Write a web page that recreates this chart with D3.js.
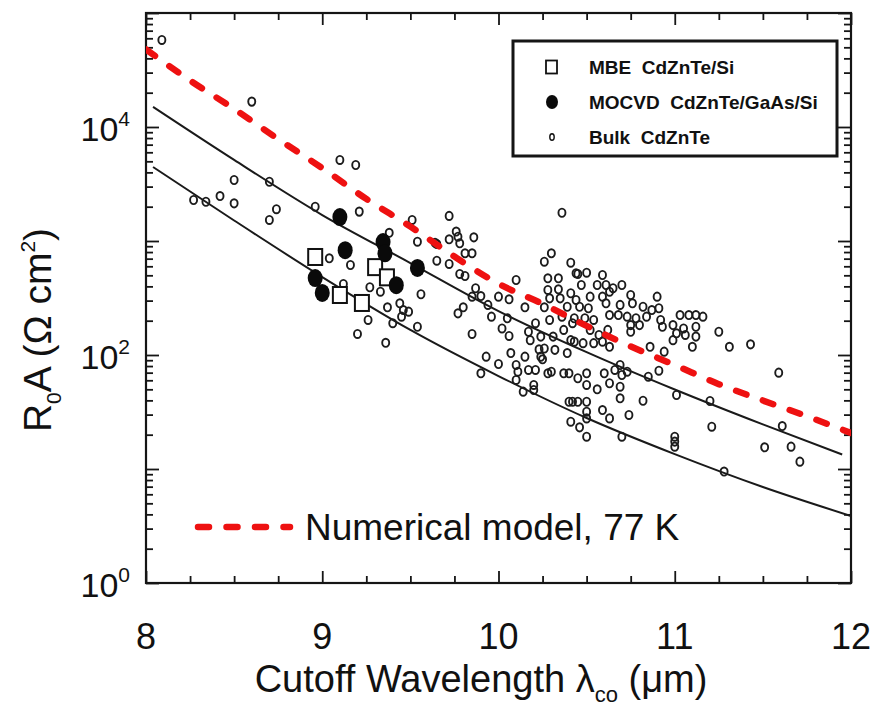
<!DOCTYPE html>
<html>
<head>
<meta charset="utf-8">
<script src="https://cdn.jsdelivr.net/npm/d3@7"></script>
<style>
  html, body { margin: 0; padding: 0; background: #fff; }
  svg { display: block; }
  text { font-family: "Liberation Sans", Arial, Helvetica, sans-serif; fill: #111; }
</style>
</head>
<body>
<svg id="chart" width="873" height="706"></svg>
<script>
// ---------------- data ----------------
const xTickValues = [8, 9, 10, 11, 12];
const yTickExponents = [0, 2, 4];

const mbeX = [8.96, 9.10, 9.225, 9.30, 9.367];
const mbeY = [724, 336, 286, 590, 480];

const mocvdX = [9.10, 9.13, 9.345, 9.356, 8.96, 9.00, 9.42, 9.54];
const mocvdY = [1620, 830, 980, 780, 473, 350, 410, 580];

const bulkX = [8.09, 8.60, 9.10, 9.19, 8.50, 8.70, 8.96, 9.21, 8.42, 8.27, 8.34, 8.50, 8.74, 8.70, 9.51, 9.54, 9.38, 9.65, 9.65, 9.04,
  9.16, 9.12, 9.27, 9.33, 9.56, 9.37, 9.44, 9.46, 9.49, 9.45, 9.26, 9.40, 9.54, 9.20, 9.36, 9.72, 10.36, 9.76, 9.77, 9.72,
  9.78, 9.86, 9.64, 9.81, 9.85, 9.72, 10.30, 10.26, 10.41, 9.78, 9.81, 10.10, 10.28, 10.34, 10.44, 9.87, 9.90, 9.85, 10.00, 10.06,
  10.28, 10.34, 10.29, 10.35, 10.41, 10.44, 9.80, 9.77, 9.94, 10.15, 10.26, 10.39, 9.96, 10.05, 10.29, 10.36, 9.85, 10.02, 10.06, 10.17,
  10.21, 10.18, 10.24, 10.26, 10.31, 10.32, 10.37, 10.41, 10.42, 9.93, 10.07, 10.15, 10.24, 10.39, 10.45, 10.50, 10.59, 10.47, 10.56, 10.61,
  10.65, 10.70, 10.52, 10.59, 10.63, 10.75, 10.90, 10.46, 10.51, 10.61, 10.69, 10.76, 10.82, 10.87, 10.91, 10.63, 10.68, 10.73, 10.78, 10.84,
  10.92, 11.03, 11.08, 11.12, 11.16, 10.54, 10.49, 10.43, 10.75, 10.80, 10.93, 10.99, 11.05, 11.12, 10.75, 11.01, 11.06, 11.12, 10.99, 11.10,
  10.52, 10.57, 10.62, 10.43, 10.48, 10.54, 10.59, 10.63, 10.86, 10.94, 11.25, 11.31, 11.43, 11.59, 10.85, 10.91, 11.01, 11.20, 11.21, 11.61,
  10.69, 10.82, 10.74, 10.59, 10.63, 11.51, 11.66, 11.71, 11.28, 10.00, 9.90, 10.23, 10.25, 10.10, 10.11, 10.17, 10.21, 10.28, 10.30, 10.37,
  10.40, 10.10, 10.14, 10.20, 10.20, 10.45, 10.50, 10.50, 10.56, 10.60, 10.63, 10.66, 10.69, 10.70, 10.73, 10.69, 10.40, 10.42, 10.45, 10.50,
  10.50, 10.50, 10.41, 10.46, 10.50, 10.70, 11.00, 11.00, 11.00];
const bulkY = [58000, 16700, 5140, 4640, 3430, 3310, 2000, 1810, 2480, 2290, 2210, 2140, 1900, 1530, 1530, 986, 1180, 942, 672, 705,
  616, 420, 393, 359, 341, 262, 284, 248, 240, 217, 203, 190, 177, 153, 128, 1660, 1770, 1210, 1090, 1035,
  955, 1077, 966, 780, 780, 629, 780, 658, 645, 514, 493, 455, 471, 471, 521, 385, 329, 325, 325, 308,
  372, 377, 314, 314, 348, 304, 262, 232, 275, 262, 262, 265, 217, 210, 203, 217, 153, 171, 147, 160,
  190, 135, 145, 114, 145, 111, 166, 135, 190, 96.7, 104, 96.7, 96.7, 104, 514, 527, 503, 411, 411, 411,
  385, 411, 325, 325, 359, 336, 325, 265, 257, 284, 275, 284, 265, 248, 257, 224, 224, 217, 210, 217,
  203, 224, 224, 224, 217, 203, 210, 210, 183, 183, 177, 183, 171, 177, 160, 155, 150, 145, 135, 118,
  166, 150, 166, 131, 127, 127, 131, 118, 118, 107, 160, 118, 124, 70, 64.5, 72.8, 44.6, 39.5, 23.5, 23.8,
  41.7, 39.7, 29.8, 32.9, 27.8, 15.5, 15.7, 11.6, 9.5, 83.4, 69.1, 112, 91.7, 81.7, 71.4, 73.9, 73.9, 69.1, 71.4, 69.1,
  69.1, 60.4, 47.7, 54.6, 49.3, 62.5, 69.1, 54.6, 50.0, 69.1, 56.5, 73.9, 81.7, 66.8, 71.4, 52.7, 38.9, 38.9, 38.9, 38.9,
  31.8, 27.8, 26.0, 23.2, 19.2, 19.2, 19.2, 17.4, 15.7];

const upperX = [8.04, 8.5, 9, 9.5, 10, 10.5, 11, 11.5, 11.95];
const upperY = [15000, 5140, 1690, 641, 243, 106, 49.8, 24.6, 13.4];

const lowerX = [8.04, 8.5, 9, 9.5, 10, 10.5, 11, 11.5, 12];
const lowerY = [4460, 1514, 483, 166, 65.4, 28.0, 13.5, 6.95, 3.87];

const modelX = [8, 8.25, 8.5, 8.75, 9, 9.25, 9.5, 9.75, 10, 10.25, 10.5, 10.75, 11, 11.25, 11.5, 11.75, 12];
const modelY = [47900, 25600, 14400, 7830, 4360, 2340, 1340, 730, 422, 281, 180, 119, 81.7, 55.5, 39.9, 29.0, 20.7];

const legendLabels = ["MBE  CdZnTe/Si", "MOCVD  CdZnTe/GaAs/Si", "Bulk  CdZnTe"];
const modelLabel = "Numerical model, 77 K";

// ---------------- layout ----------------
const svg = d3.select("#chart");
const L = 146, R = 851, T = 13, B = 583;
const x = d3.scaleLinear().domain([8, 12]).range([L, R]);
const y = d3.scaleLog().domain([1, 1e5]).range([B, T]);

const ink = "#151515";

svg.append("defs").append("clipPath").attr("id", "plotclip")
  .append("rect").attr("x", L).attr("y", T).attr("width", R - L).attr("height", B - T);

// ---------------- ticks via d3 axes (inward, mirrored) ----------------
const minorX = d3.range(8, 12.001, 0.25).filter(v => Math.abs(v - Math.round(v)) > 1e-6);
const majorY = [1, 10, 100, 1000, 1e4, 1e5];
const minorY = [];
for (let e = 0; e < 5; e++) for (let m = 2; m <= 9; m++) minorY.push(m * Math.pow(10, e));

function tickAxis(axisGen, tx, ty) {
  const g = svg.append("g").attr("transform", `translate(${tx},${ty})`).call(axisGen);
  g.select(".domain").remove();
  g.selectAll("text").remove();
  g.selectAll("line").attr("stroke", ink).attr("stroke-width", 1.8);
  return g;
}
tickAxis(d3.axisBottom(x).tickValues(xTickValues).tickSize(-12), 0, B);
tickAxis(d3.axisBottom(x).tickValues(minorX).tickSize(-7), 0, B);
tickAxis(d3.axisTop(x).tickValues(xTickValues).tickSize(-12), 0, T);
tickAxis(d3.axisTop(x).tickValues(minorX).tickSize(-7), 0, T);
tickAxis(d3.axisLeft(y).tickValues(majorY).tickSize(-13), L, 0);
tickAxis(d3.axisLeft(y).tickValues(minorY).tickSize(-7), L, 0);
tickAxis(d3.axisRight(y).tickValues(majorY).tickSize(-13), R, 0);
tickAxis(d3.axisRight(y).tickValues(minorY).tickSize(-7), R, 0);

svg.append("rect").attr("x", L).attr("y", T).attr("width", R - L).attr("height", B - T)
  .attr("fill", "none").attr("stroke", ink).attr("stroke-width", 2.2);

// ---------------- tick labels ----------------
svg.append("g").selectAll("text").data(xTickValues).join("text")
  .attr("x", d => x(d)).attr("y", B + 66)
  .attr("text-anchor", "middle").attr("font-size", 36)
  .text(d => d);

const yl = svg.append("g").selectAll("text").data(yTickExponents).join("text")
  .attr("x", 130).attr("y", d => y(Math.pow(10, d)) + 14)
  .attr("text-anchor", "end").attr("font-size", 34);
yl.append("tspan").text("10");
yl.append("tspan").attr("dy", -15).attr("font-size", 21).text(d => d);

// ---------------- axis titles ----------------
const xt = svg.append("text").attr("x", 481).attr("y", 692)
  .attr("text-anchor", "middle").attr("font-size", 38);
xt.append("tspan").text("Cutoff Wavelength λ");
xt.append("tspan").attr("dy", 10).attr("font-size", 22).text("co");
xt.append("tspan").attr("dy", -10).text(" (μm)");

const yt = svg.append("text")
  .attr("transform", "translate(51,330) rotate(-90)")
  .attr("text-anchor", "middle").attr("font-size", 39);
yt.append("tspan").text("R");
yt.append("tspan").attr("dy", 10).attr("font-size", 21).text("0");
yt.append("tspan").attr("dy", -10).text("A (Ω cm");
yt.append("tspan").attr("dy", -16).attr("font-size", 21).text("2");
yt.append("tspan").attr("dy", 16).text(")");

// ---------------- lines ----------------
const plot = svg.append("g").attr("clip-path", "url(#plotclip)");
const lineGen = d3.line().x(d => x(d[0])).y(d => y(d[1])).curve(d3.curveMonotoneX);

plot.append("path").datum(d3.zip(upperX, upperY)).attr("d", lineGen)
  .attr("fill", "none").attr("stroke", "#1a1a1a").attr("stroke-width", 2);
plot.append("path").datum(d3.zip(lowerX, lowerY)).attr("d", lineGen)
  .attr("fill", "none").attr("stroke", "#1a1a1a").attr("stroke-width", 2);

// ---------------- points ----------------
plot.append("g").selectAll("ellipse").data(d3.zip(bulkX, bulkY)).join("ellipse")
  .attr("cx", d => x(d[0])).attr("cy", d => y(d[1]))
  .attr("rx", 3.5).attr("ry", 4.1)
  .attr("fill", "none").attr("stroke", "#1c1c1c").attr("stroke-width", 1.9);

plot.append("g").selectAll("rect").data(d3.zip(mbeX, mbeY)).join("rect")
  .attr("x", d => x(d[0]) - 7).attr("y", d => y(d[1]) - 8)
  .attr("width", 14).attr("height", 16)
  .attr("fill", "#fff").attr("stroke", "#111").attr("stroke-width", 2);

plot.append("g").selectAll("ellipse").data(d3.zip(mocvdX, mocvdY)).join("ellipse")
  .attr("cx", d => x(d[0])).attr("cy", d => y(d[1]))
  .attr("rx", 7.5).attr("ry", 9)
  .attr("fill", "#0a0a0a");

const dashStyle = sel => sel.attr("fill", "none").attr("stroke", "#ee1111")
  .attr("stroke-width", 6.5).attr("stroke-linecap", "round").attr("stroke-dasharray", "11,17.5");
plot.append("path").datum(d3.zip(modelX, modelY)).attr("d", lineGen).call(dashStyle);

// ---------------- legend box ----------------
const lg = svg.append("g");
lg.append("rect").attr("x", 513).attr("y", 41).attr("width", 324).attr("height", 115)
  .attr("fill", "#fff").attr("stroke", ink).attr("stroke-width", 3);
const rowY = [67, 102, 137];
lg.append("rect").attr("x", 546).attr("y", rowY[0] - 6.5).attr("width", 11).attr("height", 13)
  .attr("fill", "#fff").attr("stroke", "#111").attr("stroke-width", 1.8);
lg.append("ellipse").attr("cx", 552).attr("cy", rowY[1]).attr("rx", 6).attr("ry", 7).attr("fill", "#0a0a0a");
lg.append("ellipse").attr("cx", 552).attr("cy", rowY[2]).attr("rx", 2.2).attr("ry", 3.2)
  .attr("fill", "none").attr("stroke", "#111").attr("stroke-width", 1.4);
lg.selectAll("text.lab").data(legendLabels).join("text").attr("class", "lab")
  .attr("x", 589).attr("y", (d, i) => rowY[i] + 7)
  .attr("font-size", 19).attr("font-weight", "bold")
  .style("white-space", "pre").attr("xml:space", "preserve")
  .text(d => d);

// ---------------- model legend ----------------
svg.append("path").datum([[198, 527], [290, 527]])
  .attr("d", d3.line()).call(dashStyle);
svg.append("text").attr("x", 305).attr("y", 540).attr("font-size", 37).text(modelLabel);
</script>
</body>
</html>
